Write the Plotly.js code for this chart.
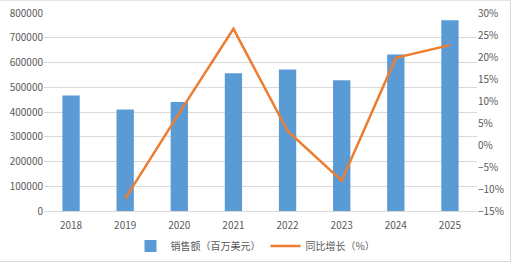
<!DOCTYPE html>
<html><head><meta charset="utf-8">
<script src="https://cdn.plot.ly/plotly-3.0.1.min.js"></script>
<style>html,body{margin:0;padding:0;background:#fff;}#c{width:511px;height:262px;border-top:1px solid #e6e6e6;border-right:1px solid #d9d9d9;border-bottom:1px solid #d9d9d9;box-sizing:border-box;}</style>
</head><body><div id="c"></div>
<script>
const years = ['2018','2019','2020','2021','2022','2023','2024','2025'];
const sales = [467000, 410000, 440000, 557000, 572000, 528000, 632000, 771000];
const growthYears = ['2019','2020','2021','2022','2023','2024','2025'];
const growth = [-12.2, 7.3, 26.4, 3.2, -8.1, 19.8, 22.7];
const leftTicks = [0,100000,200000,300000,400000,500000,600000,700000,800000];
const rightTicks = [-15,-10,-5,0,5,10,15,20,25,30];

const font = {family: 'Noto Sans CJK SC, Liberation Sans, sans-serif', size: 10, color: '#595959'};
const data = [
  {type:'bar', x: years, y: sales, name:'销售额（百万美元）', marker:{color:'#5B9BD5'}, yaxis:'y'},
  {type:'scatter', mode:'lines', x: growthYears, y: growth, name:'同比增长（%）', line:{color:'#ED7D31', width:2.5}, yaxis:'y2'}
];
const layout = {
  width: 511, height: 262,
  margin: {l:44, r:34, t:12, b:52},
  paper_bgcolor:'rgba(0,0,0,0)', plot_bgcolor:'#fff',
  font: font,
  bargap: 0.68,
  showlegend: true,
  legend: {orientation:'h', x:0.5, xanchor:'center', xref:'container', yref:'container', y:0.065, yanchor:'middle', font:{family:font.family,size:10,color:'#595959'}, tracegroupgap:0},
  xaxis: {type:'category', categoryorder:'array', categoryarray: years, showgrid:false, zeroline:false, showline:true, linecolor:'#D9D9D9', ticks:'', tickfont:font, automargin:false, ticklabelstandoff:5},
  yaxis: {range:[0,800000], tickvals:leftTicks, ticktext:leftTicks.map(String), showgrid:true, gridcolor:'#D9D9D9', zeroline:false, tickfont:font, ticks:'', automargin:false},
  yaxis2: {overlaying:'y', side:'right', range:[-15,30], tickvals:rightTicks, ticktext:rightTicks.map(v => (v<0?'−':'')+Math.abs(v)+'%'), showgrid:false, zeroline:false, tickfont:font, automargin:false}
};
Plotly.newPlot('c', data, layout, {staticPlot:true, displayModeBar:false});
</script></body></html>
